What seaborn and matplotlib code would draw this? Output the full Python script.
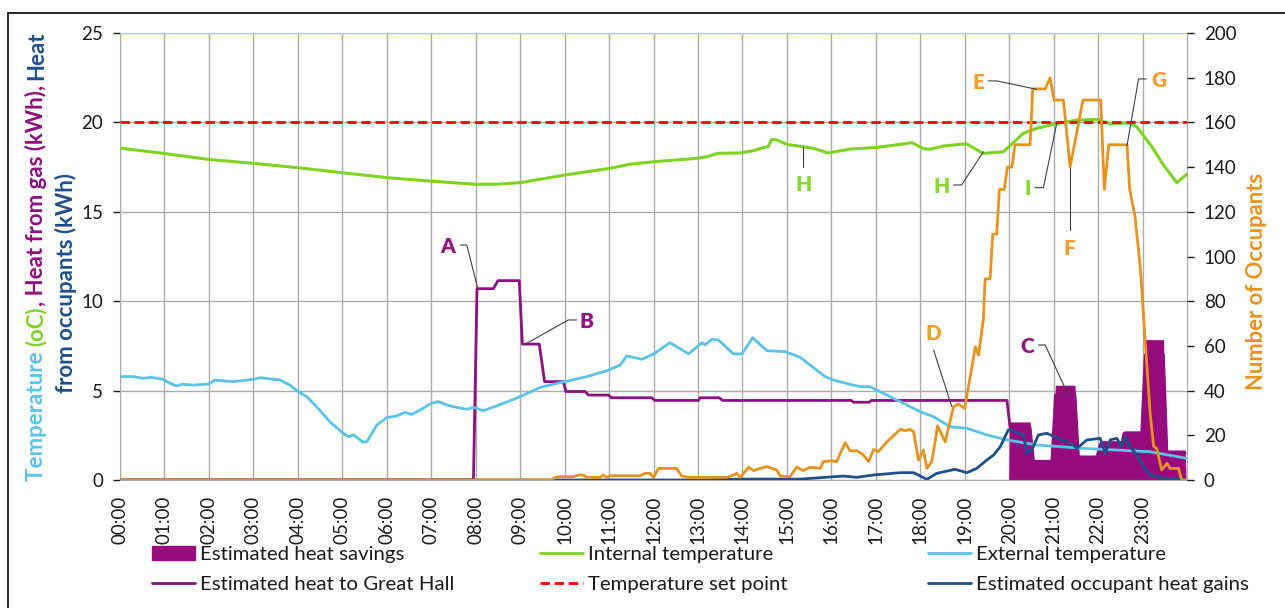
import numpy as np
import pandas as pd
import matplotlib
matplotlib.use('Agg')
import matplotlib.pyplot as plt
import seaborn as sns
from matplotlib.lines import Line2D
from matplotlib.patches import Patch, Rectangle

# ---- data (x in hours since midnight) ----
int_hours = [0.04, 0.97, 1.99, 3.0, 3.98, 4.99, 6.0, 6.97, 7.99, 8.47, 9.0, 10.01, 11.02,
             11.47, 12.0, 12.97, 13.2, 13.45, 13.95, 14.25, 14.47, 14.58, 14.66, 14.77,
             15.0, 15.37, 15.6, 15.93, 16.42, 17.02, 17.55, 17.81, 18.07, 18.22, 18.52,
             18.97, 19.05, 19.35, 19.42, 19.87, 20.32, 20.62, 21.03, 21.52, 22.01, 22.27,
             22.68, 22.87, 23.21, 23.47, 23.77, 24.0]
int_temp = [18.55, 18.27, 17.93, 17.71, 17.47, 17.19, 16.91, 16.72, 16.54, 16.54, 16.63,
            17.06, 17.43, 17.66, 17.8, 17.99, 18.08, 18.27, 18.29, 18.42, 18.59, 18.64,
            19.05, 19.02, 18.77, 18.64, 18.55, 18.29, 18.51, 18.6, 18.77, 18.87, 18.53,
            18.5, 18.68, 18.79, 18.79, 18.35, 18.27, 18.36, 19.39, 19.67, 19.91, 20.13,
            20.17, 19.91, 19.98, 19.76, 18.64, 17.62, 16.63, 17.11]

ext_hours = [0.04, 0.3, 0.52, 0.71, 0.97, 1.12, 1.28, 1.39, 1.65, 1.99, 2.14, 2.55, 3.0,
             3.15, 3.6, 3.82, 4.01, 4.2, 4.42, 4.72, 5.02, 5.14, 5.25, 5.47, 5.55, 5.78,
             6.0, 6.22, 6.41, 6.56, 6.75, 7.0, 7.16, 7.42, 7.8, 7.95, 8.17, 8.47, 9.0,
             9.45, 10.0, 10.5, 10.95, 11.25, 11.4, 11.74, 12.0, 12.37, 12.79, 13.09,
             13.16, 13.31, 13.46, 13.8, 13.99, 14.23, 14.55, 14.96, 15.3, 15.86, 16.05,
             16.42, 16.65, 16.87, 17.25, 17.55, 18.0, 18.3, 18.67, 19.05, 19.5, 19.95,
             20.62, 21.67, 23.17, 24.0]
ext_temp = [5.78, 5.78, 5.69, 5.74, 5.63, 5.41, 5.26, 5.35, 5.31, 5.37, 5.59, 5.5, 5.63,
            5.72, 5.59, 5.31, 4.94, 4.66, 4.1, 3.26, 2.61, 2.42, 2.52, 2.11, 2.14, 3.08,
            3.49, 3.58, 3.78, 3.67, 3.91, 4.29, 4.38, 4.14, 3.95, 4.06, 3.88, 4.14, 4.66,
            5.18, 5.5, 5.78, 6.11, 6.43, 6.94, 6.75, 7.05, 7.68, 7.05, 7.68, 7.55, 7.87,
            7.83, 7.05, 7.05, 7.96, 7.23, 7.18, 6.86, 5.78, 5.59, 5.35, 5.22, 5.22, 4.75,
            4.38, 3.82, 3.54, 2.98, 2.89, 2.52, 2.24, 1.96, 1.77, 1.58, 1.21]

gas_hours = [0, 7.95, 8.03, 8.40, 8.50, 8.98, 9.05, 9.43, 9.55, 9.97, 10.03, 10.46, 10.54,
             10.99, 11.05, 11.96, 12.03, 13.01, 13.05, 13.48, 13.55, 16.45, 16.5, 16.85,
             16.9, 19.95, 20.02, 20.47, 20.55, 20.96, 21.04, 21.48, 21.56, 21.97, 22.05,
             22.53, 22.58, 22.98, 23.06, 23.47, 23.55, 23.96]
gas_heat = [0, 0, 10.7, 10.7, 11.15, 11.15, 7.6, 7.6, 5.5, 5.5, 4.95, 4.95, 4.75, 4.75,
            4.6, 4.6, 4.45, 4.45, 4.6, 4.6, 4.45, 4.45, 4.35, 4.35, 4.45, 4.45, 2.95, 2.95,
            1.05, 1.05, 4.75, 4.75, 1.25, 1.25, 2.0, 2.0, 2.6, 2.6, 7.0, 7.0, 1.5, 1.5]

sav_hours = [19.99, 20.01, 20.47, 20.55, 20.96, 21.04, 21.48, 21.56, 21.97, 22.05, 22.53,
             22.58, 22.98, 23.06, 23.47, 23.55, 23.96, 23.98]
sav_heat = [0, 3.25, 3.25, 1.1, 1.1, 5.3, 5.3, 1.4, 1.4, 2.2, 2.2, 2.75, 2.75, 7.85,
            7.85, 1.68, 1.68, 0]

occ_heat_hours = [0, 9.75, 13.05, 14.02, 15.3, 16.27, 16.57, 16.95, 17.55, 17.85, 18.15,
                  18.37, 18.78, 19.05, 19.27, 19.5, 19.65, 19.8, 19.98, 20.02, 20.32,
                  20.4, 20.51, 20.66, 20.85, 21.19, 21.45, 21.52, 21.75, 22.05, 22.16,
                  22.27, 22.42, 22.53, 22.61, 22.72, 22.87, 23.02, 23.17, 23.47, 23.92]
occ_heat = [0, 0, 0, 0.05, 0.05, 0.22, 0.15, 0.28, 0.41, 0.41, 0.04, 0.37, 0.6, 0.41,
            0.65, 1.12, 1.4, 1.86, 2.8, 2.8, 2.52, 1.49, 1.68, 2.52, 2.61, 2.24, 1.96,
            1.77, 2.24, 2.33, 1.49, 2.24, 2.33, 1.86, 2.42, 1.86, 1.4, 0.75, 0.28, 0.09,
            0.09]

occ_hours = [0, 9.7, 9.79, 9.86, 10.2, 10.31, 10.42, 10.5, 10.8, 10.87, 10.95, 11.02,
             11.7, 11.81, 11.92, 12.0, 12.11, 12.52, 12.63, 12.79, 13.65, 13.8, 13.87,
             13.95, 14.14, 14.25, 14.4, 14.55, 14.77, 14.85, 15.07, 15.22, 15.37, 15.52,
             15.75, 15.82, 16.01, 16.12, 16.31, 16.42, 16.57, 16.72, 16.84, 16.95, 17.06,
             17.25, 17.55, 17.66, 17.77, 17.85, 17.96, 18.07, 18.15, 18.26, 18.39, 18.56,
             18.75, 18.86, 19.0, 19.24, 19.31, 19.42, 19.46, 19.57, 19.63, 19.72, 19.78,
             19.89, 19.96, 20.06, 20.13, 20.47, 20.53, 20.81, 20.92, 21.01, 21.22, 21.37,
             21.66, 22.06, 22.14, 22.24, 22.65, 22.71, 22.83, 22.95, 23.06, 23.17, 23.25,
             23.32, 23.43, 23.55, 23.62, 23.81, 23.88, 24.0]
occupants = [0, 0, 1.2, 1.5, 1.5, 2.2, 2.2, 1.2, 1.2, 2.2, 1.2, 1.9, 1.9, 3, 3, 1.2, 5.2,
             5.2, 1.8, 1.2, 1.2, 2.2, 3, 1.2, 5.7, 4.2, 5.2, 6, 4.5, 1.8, 1.5, 5.7, 4.2,
             5.7, 5.2, 8.2, 8.6, 8.2, 16.7, 13.1, 13.1, 11.2, 8.2, 13.7, 12.7, 17.1, 22.7,
             22.1, 22.7, 21.6, 8.9, 13.4, 5.2, 8.2, 24.2, 17.1, 32.8, 34, 32, 59.6, 55.9,
             72, 90, 90, 110, 110, 130, 130, 140, 140, 150, 150, 175, 175, 180, 170, 170,
             140, 170, 170, 130, 150, 150, 130, 118, 95, 62, 30, 15, 14, 4.5, 7.5, 5.2,
             5.2, 0, 0]

set_point = 20
hour_labels = [f"{h:02d}:00" for h in range(24)]

# annotation letters: (letter, colour, text x/y, leader points) in left-axis units
notes = [
    ("A", "purple", (7.38, 13.05), [(7.66, 13.14), (7.80, 13.14), (8.04, 10.78)]),
    ("B", "purple", (10.5, 8.85), [(10.27, 8.95), (10.08, 8.95), (9.11, 7.59)]),
    ("C", "purple", (20.40, 7.46), [(20.66, 7.55), (20.81, 7.55), (21.33, 4.75)]),
    ("D", "orange", (18.30, 8.2), [(18.30, 7.27), (18.71, 4.10)]),
    ("E", "orange", (19.31, 22.22), [(19.53, 22.32), (19.72, 22.32), (20.62, 21.85)]),
    ("F", "orange", (21.36, 12.96), [(21.37, 13.98), (21.37, 17.43)]),
    ("G", "orange", (23.36, 22.37), [(23.08, 22.43), (22.91, 22.43), (22.65, 18.70)]),
    ("H", "green", (15.37, 16.5), [(15.37, 17.52), (15.37, 18.64)]),
    ("H", "green", (18.49, 16.44), [(18.75, 16.5), (18.93, 16.5), (19.42, 18.36)]),
    ("I", "green", (20.42, 16.31), [(20.58, 16.35), (20.77, 16.35), (21.07, 19.95)]),
]

# ---- colours ----
c_int = '#7ED321'
c_ext = '#5BC3E6'
c_gas = '#8E0F80'
c_sav = '#980B7C'
c_set = '#FF0000'
c_occh = '#1F4E8C'
c_occ = '#E8921E'
note_col = {"purple": '#8E1581', "orange": '#F0A030', "green": '#86DA2E'}

sns.set_style('white')
plt.rcParams['font.family'] = ['Lato', 'DejaVu Sans']
plt.rcParams['text.color'] = '#1a1a1a'

W, H = 1285, 608
fig = plt.figure(figsize=(W / 100, H / 100), dpi=100)
ax = fig.add_axes([120 / W, 1 - 480 / H, (1187 - 120) / W, (480 - 33) / H])

ax.fill_between(sav_hours, 0, sav_heat, color=c_sav, lw=0, zorder=1.5)
ax.axhline(set_point, color=c_set, lw=2.0, dashes=(3.4, 1.7), zorder=4)
sns.lineplot(x=gas_hours, y=gas_heat, ax=ax, color=c_gas, lw=2.0, estimator=None, sort=False, zorder=2.5)
sns.lineplot(x=ext_hours, y=ext_temp, ax=ax, color=c_ext, lw=2.0, estimator=None, sort=False, zorder=3)
sns.lineplot(x=occ_heat_hours, y=occ_heat, ax=ax, color=c_occh, lw=2.0, estimator=None, sort=False, zorder=3)
sns.lineplot(x=int_hours, y=int_temp, ax=ax, color=c_int, lw=2.2, estimator=None, sort=False, zorder=3)

ax.set_xlim(0, 24)
ax.set_ylim(0, 25)
ax.set_xticks(range(24))
ax.set_xticklabels(hour_labels, rotation=90)
ax.set_yticks(range(0, 26, 5))
ax.grid(True, color='#ABABAB', lw=1.0)
ax.set_axisbelow(True)
ax.tick_params(axis='both', labelsize=13.5, colors='#1a1a1a', length=5, width=1, direction='out')
ax.tick_params(axis='y', pad=7)
ax.tick_params(axis='x', pad=6)
for side in ['left', 'right', 'bottom']:
    ax.spines[side].set_color('#ABABAB')
ax.spines['top'].set_color('#A5E36B')
ax.set_xlabel('')
ax.set_ylabel('')

ax2 = ax.twinx()
sns.lineplot(x=occ_hours, y=occupants, ax=ax2, color=c_occ, lw=2.0, estimator=None, sort=False)
ax2.set_ylim(0, 200)
ax2.set_yticks(range(0, 201, 20))
ax2.tick_params(axis='y', labelsize=13.5, colors='#1a1a1a', length=5, width=1, pad=7)
for s in ax2.spines.values():
    s.set_visible(False)
ax2.set_ylabel('')
ax2.grid(False)

# letters with leader lines, drawn on top
for letter, col, (tx, ty), pts in notes:
    xs = [p[0] for p in pts]
    ys = [p[1] for p in pts]
    ax2.plot(xs, ys, color='#404040', lw=0.8, transform=ax.transData, zorder=6)
    ax2.text(tx, ty, letter, color=note_col[col], fontsize=15, fontweight='heavy',
             ha='center', va='center', transform=ax.transData, zorder=7)

# multi-coloured left axis title
fig.canvas.draw()
rend = fig.canvas.get_renderer()


def txt_len(s, size):
    t = fig.text(0, 0, s + '|', fontsize=size, fontweight='bold', rotation=90)
    u = fig.text(0, 0, '|', fontsize=size, fontweight='bold', rotation=90)
    L = t.get_window_extent(rend).height - u.get_window_extent(rend).height
    t.remove()
    u.remove()
    return L


def colour_title(pieces, x_base, y_mid, size):
    full = ''.join(p[0] for p in pieces)
    total = txt_len(full, size)
    y0 = (H - y_mid) - total / 2
    prefix = ''
    for s, c in pieces:
        off = txt_len(prefix, size) if prefix else 0
        fig.text(x_base / W, (y0 + off) / H, s, color=c, fontsize=size, fontweight='bold',
                 rotation=90, rotation_mode='anchor', ha='left', va='baseline')
        prefix += s


label_size = 16
colour_title([("Temperature ", c_ext), ("(oC)", c_int), (", Heat from gas (kWh), ", c_gas),
              ("Heat", c_occh)], 43, 256, label_size)
colour_title([("from occupants (kWh)", c_occh)], 73, 283, label_size)
fig.text(1256.5 / W, 1 - 281 / H, "Number of Occupants", color=c_occ, fontsize=15.8,
         fontweight='bold', rotation=90, ha='center', va='center')

# legend, three columns
lab_font = 14.7
hl = 43 / (lab_font * 100 / 72)
cols = [
    ([Patch(facecolor=c_sav, edgecolor=c_sav),
      Line2D([], [], color=c_gas, lw=2)],
     ["Estimated heat savings", "Estimated heat to Great Hall"], 152),
    ([Line2D([], [], color=c_int, lw=2),
      Line2D([], [], color=c_set, lw=2, dashes=(3.4, 1.7))],
     ["Internal temperature", "Temperature set point"], 540),
    ([Line2D([], [], color=c_ext, lw=2),
      Line2D([], [], color=c_occh, lw=2)],
     ["External temperature", "Estimated occupant heat gains"], 928),
]
for handles, labels, xpx in cols:
    fig.legend(handles=handles, labels=labels, loc='upper left',
               bbox_to_anchor=(xpx / W, 1 - 546 / H), frameon=False, fontsize=lab_font,
               borderpad=0, borderaxespad=0, handlelength=hl, handletextpad=0.25,
               labelspacing=0.62, handleheight=0.65)

# outer chart border
fig.add_artist(Rectangle((8 / W, -0.05), 1.2, 1 - 13 / H + 0.05, transform=fig.transFigure,
                         fill=False, edgecolor='black', lw=1.2))

fig.savefig('out.png', dpi=100)
